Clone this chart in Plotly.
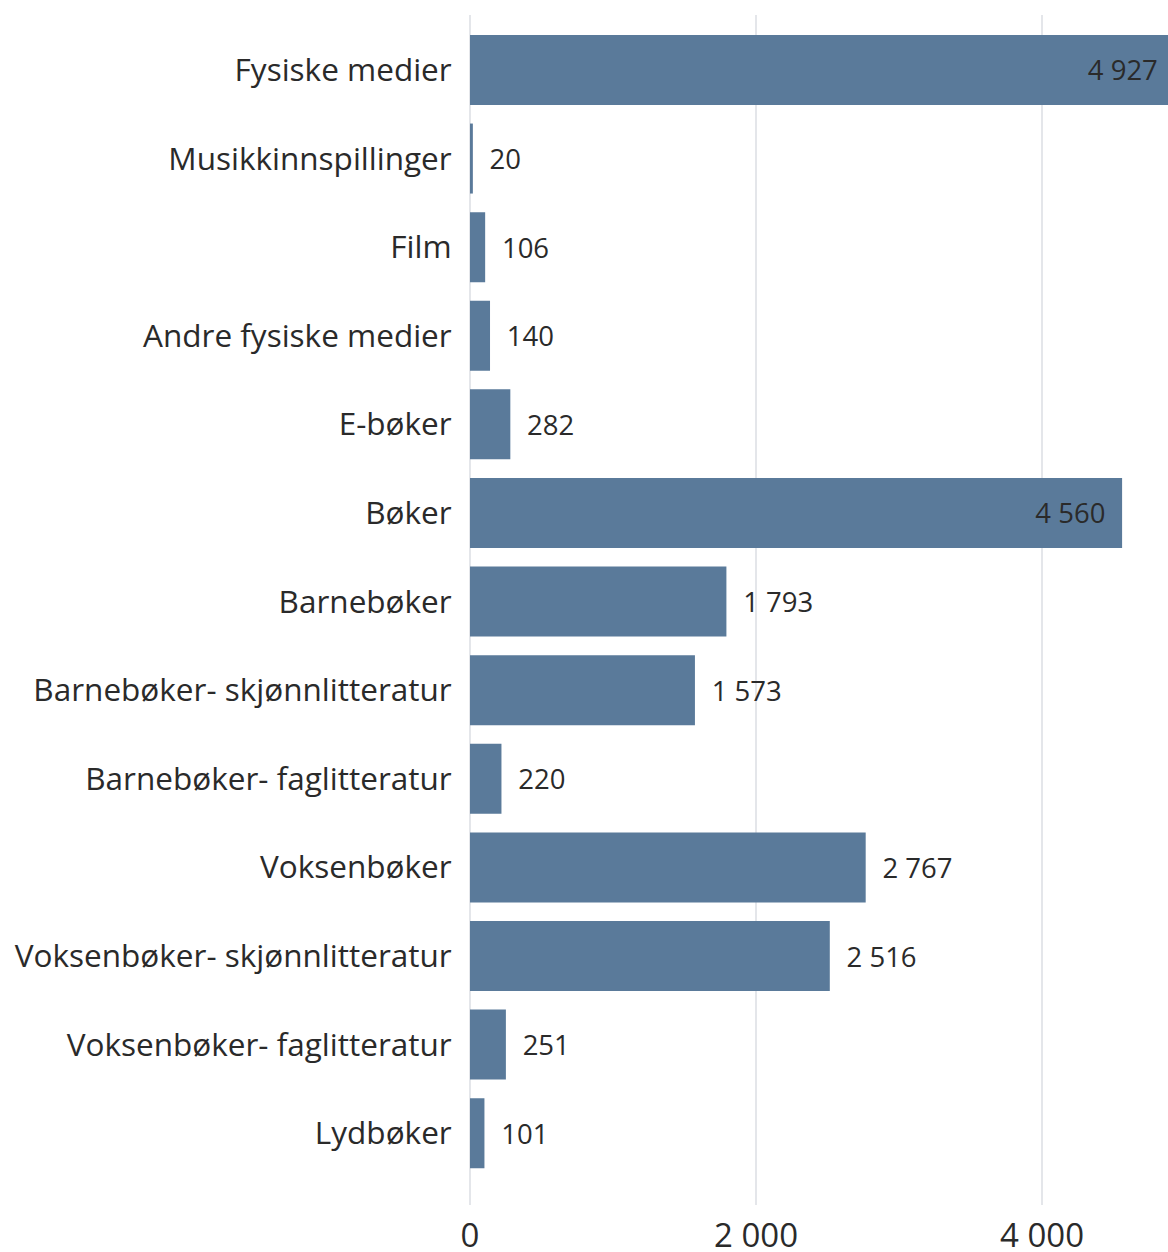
import plotly.graph_objects as go

categories = [
    "Fysiske medier",
    "Musikkinnspillinger",
    "Film",
    "Andre fysiske medier",
    "E-bøker",
    "Bøker",
    "Barnebøker",
    "Barnebøker- skjønnlitteratur",
    "Barnebøker- faglitteratur",
    "Voksenbøker",
    "Voksenbøker- skjønnlitteratur",
    "Voksenbøker- faglitteratur",
    "Lydbøker",
]
values = [4927, 20, 106, 140, 282, 4560, 1793, 1573, 220, 2767, 2516, 251, 101]
tick_values = [0, 2000, 4000]

BAR_COLOR = "#5a7a9a"
TEXT_COLOR = "#2a2a2a"
FONT = "Open Sans"
PAD = "\u2002"  # en space keeps the value label clear of the bar end

# large bars carry their label inside, the rest just outside the bar end
positions = ["inside" if v > 4000 else "outside" for v in values]
templates = ["%{x:,}" + PAD if p == "inside" else PAD + "%{x:,}" for p in positions]

fig = go.Figure(
    go.Bar(
        x=values,
        y=categories,
        orientation="h",
        marker=dict(color=BAR_COLOR, line=dict(width=0)),
        texttemplate=templates,
        textposition=positions,
        insidetextanchor="end",
        textfont=dict(family=FONT, size=27.5, color=TEXT_COLOR),
        cliponaxis=True,
        hoverinfo="skip",
    )
)

fig.update_layout(
    width=1168,
    height=1252,
    margin=dict(l=470, r=0, t=15, b=47),
    paper_bgcolor="white",
    plot_bgcolor="white",
    separators=", ",
    bargap=0.21,
    showlegend=False,
    font=dict(family=FONT, color=TEXT_COLOR),
    uniformtext=dict(mode=False),
)

fig.update_xaxes(
    automargin=False,
    range=[0, 4881],
    tickvals=tick_values,
    tickformat=",",
    showgrid=True,
    gridcolor="#e4e6ea",
    gridwidth=1.5,
    zeroline=True,
    zerolinecolor="#e4e6ea",
    zerolinewidth=1.5,
    showline=False,
    ticks="outside",
    ticklen=1,
    tickcolor="rgba(0,0,0,0)",
    tickfont=dict(family=FONT, size=33, color=TEXT_COLOR),
)

fig.update_yaxes(
    automargin=False,
    type="category",
    categoryorder="array",
    categoryarray=categories,
    range=[12.81, -0.62],
    showgrid=False,
    zeroline=False,
    showline=False,
    ticks="outside",
    ticklen=11,
    tickcolor="rgba(0,0,0,0)",
    tickfont=dict(family=FONT, size=31.5, color=TEXT_COLOR),
)

fig.write_html("out.html")
